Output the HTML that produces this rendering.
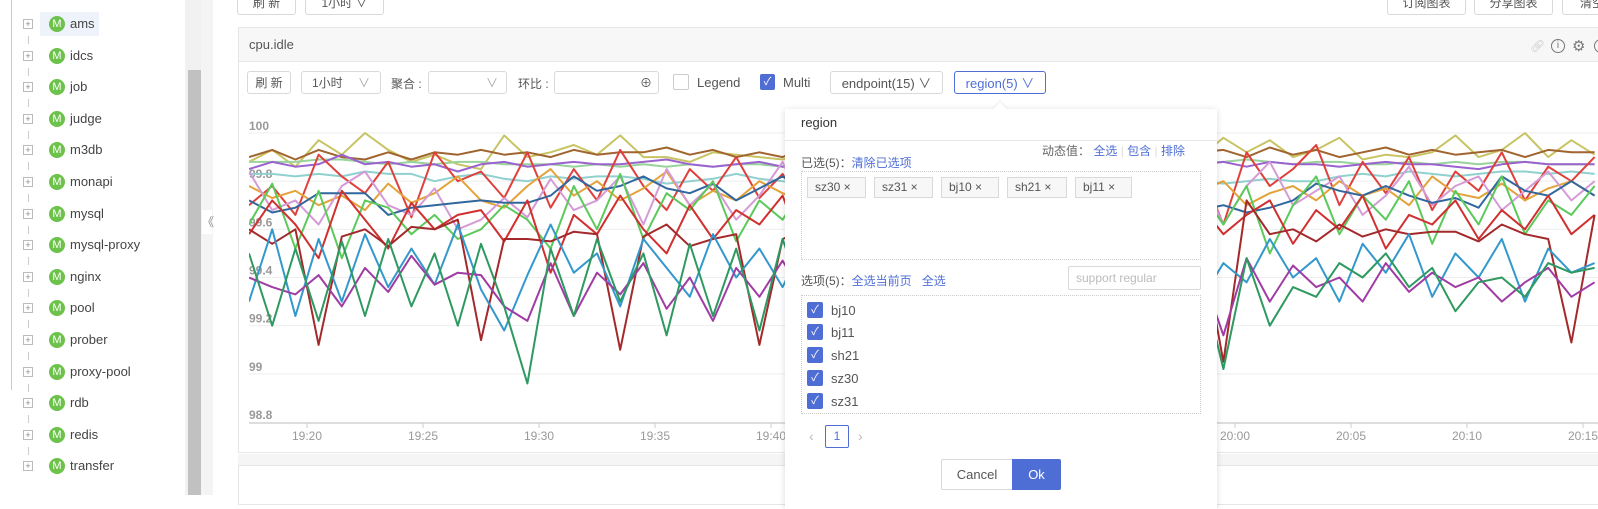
<!DOCTYPE html>
<html><head><meta charset="utf-8"><style>
*{box-sizing:border-box;margin:0;padding:0}
body{width:1598px;height:495px;overflow:hidden;background:#fff;font-family:"Liberation Sans","Noto Sans CJK SC",sans-serif;font-size:12px;color:#555;position:relative}
.a{position:absolute}
.btn{position:absolute;border:1px solid #d9d9d9;border-radius:3px;background:#fff;color:#555;font-size:12px;display:flex;align-items:center;justify-content:center}
.tree-row{position:absolute;left:0;height:24px;width:180px}
.plus{position:absolute;left:23px;top:7px;width:10px;height:10px;border:1px solid #bbb;font-size:9px;line-height:8px;text-align:center;color:#888}
.m{position:absolute;left:49px;top:4px;width:16px;height:16px;border-radius:50%;background:#6cc24a;color:#fff;font-size:11px;line-height:16px;text-align:center}
.tl{position:absolute;left:70px;top:4px;font-size:13px;color:#444}
.tag{position:absolute;top:177px;height:21px;border:1px solid #d9d9d9;background:#f7f7f7;font-size:12px;line-height:19px;padding-left:7px;color:#555}
.cb{position:absolute;left:807px;width:16px;height:16px;background:#4e6ed6;border-radius:2px;color:#fff;font-size:11px;line-height:16px;text-align:center}
.cbl{position:absolute;left:831px;font-size:13px;color:#555}
.blue{color:#4e6ed6}
</style></head><body>
<!-- sidebar -->
<div class="a" style="left:0;top:0;width:185px;height:495px;background:#fff">
<div class="a" style="left:11px;top:0;width:1px;height:390px;background:#ccc"></div>
<div class="a" style="left:40px;top:12px;width:59px;height:24px;background:#edf2fb"></div>
<div id="tree"></div>
</div>
<div class="a" style="left:185px;top:0;width:16px;height:495px;background:#f1f1f1"></div>
<div class="a" style="left:188px;top:70px;width:13px;height:425px;background:#c1c1c1"></div>
<div class="a" style="left:201px;top:0;width:12px;height:495px;background:#f3f4f6"></div>
<div class="a" style="left:202px;top:210px;width:10px;height:24px;background:#fff;font-size:12px;line-height:24px;color:#888">《</div>

<!-- top buttons -->
<div class="btn" style="left:237px;top:-10px;width:59px;height:25px">刷 新</div>
<div class="btn" style="left:305px;top:-10px;width:79px;height:25px">1小时 ∨</div>
<div class="btn" style="left:1387px;top:-10px;width:79px;height:25px">订阅图表</div>
<div class="btn" style="left:1474px;top:-10px;width:79px;height:25px">分享图表</div>
<div class="btn" style="left:1562px;top:-10px;width:60px;height:25px">清空</div>

<!-- panel -->
<div class="a" style="left:238px;top:27px;width:1370px;height:426px;border:1px solid #e6e6e6;background:#fff"></div>
<div class="a" style="left:239px;top:28px;width:1370px;height:34px;background:#f7f7f7;border-bottom:1px solid #e8e8e8"></div>
<div class="a" style="left:249px;top:37px;font-size:13px;color:#555">cpu.idle</div>
<div class="a" style="left:1530px;top:39px;font-size:12px;color:#ccc">🔗︎</div>
<div class="a" style="left:1551px;top:39px;width:14px;height:14px;border:1px solid #777;border-radius:50%;font-size:10px;line-height:12px;text-align:center;color:#777">i</div>
<div class="a" style="left:1572px;top:37px;font-size:15px;color:#777">⚙</div>
<div class="a" style="left:1594px;top:39px;width:14px;height:14px;border:1px solid #777;border-radius:50%"></div>
<div class="a" style="left:238px;top:454px;width:1370px;height:11px;background:#f5f5f5"></div>
<div class="a" style="left:238px;top:465px;width:1370px;height:40px;border:1px solid #e6e6e6;background:#fff"></div>

<!-- toolbar -->
<div class="btn" style="left:247px;top:71px;width:44px;height:23px">刷 新</div>
<div class="btn" style="left:301px;top:71px;width:80px;height:23px;justify-content:space-between;padding:0 10px">1小时<span style="color:#aaa">∨</span></div>
<div class="a" style="left:391px;top:75px">聚合 :</div>
<div class="btn" style="left:428px;top:71px;width:79px;height:23px;justify-content:flex-end;padding-right:8px;color:#aaa">∨</div>
<div class="a" style="left:518px;top:75px">环比 :</div>
<div class="btn" style="left:554px;top:71px;width:105px;height:23px;justify-content:flex-end;padding-right:6px">⊕</div>
<div class="a" style="left:673px;top:74px;width:16px;height:16px;border:1px solid #ccc;border-radius:2px;background:#fff"></div>
<div class="a" style="left:697px;top:75px;font-size:13px">Legend</div>
<div class="a" style="left:760px;top:74px;width:15px;height:16px;background:#4e6ed6;border-radius:2px;color:#fff;font-size:11px;line-height:16px;text-align:center">✓</div>
<div class="a" style="left:783px;top:75px;font-size:13px">Multi</div>
<div class="btn" style="left:830px;top:71px;width:113px;height:23px;font-size:13px">endpoint(15) ∨</div>
<div class="btn" style="left:954px;top:71px;width:92px;height:23px;font-size:13px;border-color:#4e6ed6;color:#4e6ed6">region(5) ∨</div>

<svg class="a" style="left:0;top:0" width="1598" height="495" id="chart">
<defs><clipPath id="pc"><rect x="249" y="100" width="1360" height="330"/></clipPath></defs>
<g id="grid"></g><g id="lines" clip-path="url(#pc)"></g><g id="axis"></g>
</svg>

<!-- popover -->
<div class="a" style="left:785px;top:109px;width:432px;height:400px;background:#fff;box-shadow:0 1px 6px rgba(0,0,0,.15)"></div>
<div class="a" style="left:995px;top:104px;width:10px;height:10px;background:#fff;transform:rotate(45deg);box-shadow:-1px -1px 2px rgba(0,0,0,.08)"></div>
<div class="a" style="left:801px;top:115px;font-size:13px;color:#333">region</div>
<div class="a" style="left:785px;top:140px;width:432px;height:1px;background:#e8e8e8"></div>
<div class="a" style="left:1042px;top:142px;font-size:12px;color:#666">动态值： <span class="blue">全选</span> <span style="color:#ddd">|</span> <span class="blue">包含</span> <span style="color:#ddd">|</span> <span class="blue">排除</span></div>
<div class="a" style="left:801px;top:154px;font-size:12px;color:#555">已选(5)：<span class="blue">清除已选项</span></div>
<div class="a" style="left:801px;top:171px;width:400px;height:89px;border:1px dotted #ccc"></div>
<div class="tag" style="left:807px;width:59px">sz30 ×</div>
<div class="tag" style="left:874px;width:59px">sz31 ×</div>
<div class="tag" style="left:941px;width:58px">bj10 ×</div>
<div class="tag" style="left:1007px;width:60px">sh21 ×</div>
<div class="tag" style="left:1075px;width:57px">bj11 ×</div>
<div class="a" style="left:801px;top:272px;font-size:12px;color:#555">选项(5)：<span class="blue">全选当前页</span>&nbsp;&nbsp;&nbsp;<span class="blue">全选</span></div>
<div class="a" style="left:1068px;top:266px;width:133px;height:24px;border:1px solid #d9d9d9;border-radius:2px;color:#bbb;font-size:12px;line-height:22px;padding-left:7px">support regular</div>
<div class="a" style="left:801px;top:295px;width:400px;height:119px;border:1px dotted #ccc"></div>
<div class="cb" style="top:302px">✓</div><div class="cbl" style="top:303px">bj10</div>
<div class="cb" style="top:324px">✓</div><div class="cbl" style="top:325px">bj11</div>
<div class="cb" style="top:347px">✓</div><div class="cbl" style="top:348px">sh21</div>
<div class="cb" style="top:370px">✓</div><div class="cbl" style="top:371px">sz30</div>
<div class="cb" style="top:393px">✓</div><div class="cbl" style="top:394px">sz31</div>
<div class="a" style="left:809px;top:428px;color:#bbb;font-size:14px">‹</div>
<div class="a" style="left:825px;top:425px;width:24px;height:23px;border:1px solid #4e6ed6;border-radius:2px;color:#4e6ed6;text-align:center;line-height:21px">1</div>
<div class="a" style="left:858px;top:428px;color:#bbb;font-size:14px">›</div>
<div class="btn" style="left:941px;top:459px;width:72px;height:31px;font-size:13px;border-radius:2px 0 0 2px">Cancel</div>
<div class="btn" style="left:1012px;top:459px;width:49px;height:31px;font-size:13px;background:#4e6ed6;border-color:#4e6ed6;color:#fff;border-radius:0 2px 2px 0">Ok</div>

<script>
var treeItems=["ams","idcs","job","judge","m3db","monapi","mysql","mysql-proxy","nginx","pool","prober","proxy-pool","rdb","redis","transfer"];
var tree=document.getElementById('tree');
treeItems.forEach(function(n,i){
  var r=document.createElement('div');r.className='tree-row';r.style.top=(12+i*31.6)+'px';
  
  
  r.innerHTML='<div class="plus">+</div><div class="m">M</div><div class="tl">'+n+'</div>';
  tree.appendChild(r);
  if(i<14){var d=document.createElement('div');d.className='a';d.style.cssText='left:28px;width:1px;height:8px;background:#ccc;top:'+(12+i*31.6+24)+'px';tree.appendChild(d);}
});

var yTicks=[100,99.8,99.6,99.4,99.2,99,98.8];
var yTickLabels=["100","99.8","99.6","99.4","99.2","99","98.8"];
var xTickMinutes=[20,25,30,35,40,45,50,55,60,65,70,75];
var xTickLabels=["19:20","19:25","19:30","19:35","19:40","19:45","19:50","19:55","20:00","20:05","20:10","20:15"];
var startMinute=17.5;
var colors=["#c8c463","#a0642e","#97d39a","#9b63cf","#8fd1cf","#e0403c","#e4a33a","#d49bd6","#31679d","#5bc95b","#d03030","#a3292b","#3398cc","#a03ca3","#2e9960"];
var s1=[99.88,99.93,99.86,99.97,99.91,100,99.93,99.88,99.91,99.87,99.85,99.99,99.9,99.92,99.95,99.91,99.99,99.9,99.9,99.88,99.92,99.91,99.9,99.89,99.91,99.91,99.93,99.9,99.87,99.91,99.92,99.88,99.86,100,99.9,99.88,99.93,99.9,99.89,99.91,99.92,99.9,99.98,99.92,99.97,99.9,99.93,99.98,99.89,99.91,99.9,99.92,99.99,99.9,99.93,100,99.9,99.97,99.91];
var s2=[99.9,99.93,99.89,99.93,99.9,99.89,99.92,99.89,99.92,99.91,99.93,99.91,99.92,99.9,99.93,99.91,99.92,99.92,99.94,99.91,99.93,99.9,99.92,99.9,99.94,99.91,99.93,99.9,99.92,99.91,99.94,99.91,99.92,99.9,99.93,99.91,99.92,99.94,99.9,99.93,99.91,99.92,99.93,99.9,99.94,99.91,99.93,99.9,99.92,99.94,99.91,99.93,99.91,99.92,99.93,99.9,99.93,99.92,99.92];
var s3=[99.88,99.88,99.88,99.89,99.89,99.88,99.87,99.88,99.87,99.88,99.88,99.87,99.87,99.87,99.86,99.87,99.86,99.87,99.86,99.87,99.86,99.87,99.87,99.86,99.87,99.87,99.86,99.86,99.85,99.86,99.87,99.86,99.86,99.87,99.87,99.86,99.86,99.87,99.88,99.87,99.86,99.87,99.88,99.89,99.88,99.87,99.88,99.88,99.87,99.87,99.88,99.87,99.88,99.87,99.88,99.88,99.87,99.87,99.87];
var s4=[99.85,99.88,99.86,99.87,99.91,99.87,99.88,99.86,99.87,99.84,99.87,99.88,99.86,99.87,99.88,99.87,99.87,99.88,99.89,99.87,99.86,99.87,99.88,99.86,99.87,99.88,99.86,99.87,99.89,99.87,99.86,99.88,99.87,99.87,99.86,99.87,99.88,99.86,99.87,99.88,99.86,99.87,99.88,99.86,99.88,99.87,99.87,99.86,99.87,99.88,99.87,99.87,99.86,99.85,99.87,99.88,99.87,99.87,99.87];
var s5=[99.83,99.83,99.82,99.83,99.82,99.84,99.83,99.83,99.8,99.82,99.83,99.81,99.8,99.82,99.81,99.82,99.82,99.81,99.79,99.8,99.81,99.83,99.81,99.8,99.79,99.8,99.82,99.81,99.8,99.8,99.81,99.82,99.83,99.81,99.8,99.8,99.8,99.81,99.82,99.78,99.79,99.8,99.79,99.8,99.81,99.8,99.8,99.82,99.83,99.82,99.84,99.83,99.82,99.83,99.84,99.84,99.83,99.84,99.83];
var s6=[99.7,99.78,99.66,99.91,99.82,99.75,99.88,99.65,99.92,99.8,99.84,99.73,99.92,99.69,99.85,99.72,99.93,99.78,99.68,99.85,99.76,99.9,99.73,99.83,99.67,99.91,99.75,99.86,99.7,99.92,99.8,99.66,99.88,99.74,99.94,99.7,99.83,99.72,99.9,99.78,99.68,99.86,99.62,99.92,99.78,99.85,99.95,99.7,99.88,99.75,99.9,99.68,99.84,99.76,99.92,99.72,99.86,99.8,99.9];
var s7=[99.78,99.73,99.76,99.7,99.74,99.68,99.79,99.71,99.75,99.82,99.72,99.69,99.78,99.85,99.74,99.8,99.72,99.77,99.84,99.7,99.76,99.72,99.8,99.75,99.71,99.78,99.68,99.82,99.74,99.79,99.72,99.83,99.75,99.7,99.8,99.73,99.77,99.69,99.78,99.84,99.72,99.76,99.8,99.7,99.75,99.78,99.72,99.8,99.74,99.77,99.7,99.82,99.75,99.73,99.79,99.72,99.77,99.8,99.74];
var s8=[99.84,99.68,99.72,99.62,99.78,99.84,99.7,99.66,99.77,99.6,99.64,99.73,99.65,99.81,99.68,99.72,99.82,99.62,99.85,99.7,99.79,99.64,99.74,99.88,99.66,99.72,99.58,99.78,99.7,99.85,99.62,99.76,99.81,99.66,99.74,99.86,99.6,99.72,99.8,99.68,99.74,99.84,99.62,99.78,99.88,99.7,99.76,99.82,99.66,99.74,99.86,99.7,99.78,99.82,99.68,99.76,99.84,99.72,99.8];
var s9=[99.72,99.67,99.69,99.75,99.75,99.75,99.66,99.69,99.7,99.71,99.72,99.71,99.71,99.74,99.82,99.76,99.78,99.82,99.77,99.75,99.79,99.72,99.77,99.82,99.76,99.8,99.8,99.75,99.75,99.71,99.66,99.71,99.71,99.72,99.74,99.74,99.78,99.72,99.78,99.75,99.74,99.68,99.7,99.67,99.69,99.72,99.79,99.76,99.74,99.78,99.74,99.71,99.73,99.69,99.82,99.76,99.74,99.8,99.74];
var s10=[99.62,99.79,99.52,99.76,99.48,99.72,99.69,99.58,99.66,99.56,99.6,99.7,99.64,99.52,99.78,99.6,99.83,99.56,99.75,99.68,99.8,99.55,99.72,99.64,99.79,99.52,99.74,99.6,99.82,99.5,99.78,99.66,99.58,99.76,99.62,99.8,99.54,99.72,99.66,99.84,99.56,99.76,99.62,99.78,99.5,99.7,99.82,99.58,99.74,99.64,99.8,99.54,99.76,99.62,99.82,99.58,99.72,99.66,99.78];
var s11=[99.58,99.72,99.62,99.48,99.76,99.64,99.52,99.71,99.6,99.66,99.68,99.55,99.72,99.42,99.66,99.58,99.74,99.6,99.5,99.7,99.56,99.68,99.62,99.74,99.48,99.66,99.58,99.72,99.6,99.52,99.74,99.58,99.66,99.68,99.5,99.72,99.62,99.56,99.74,99.64,99.52,99.7,99.58,99.66,99.72,99.54,99.68,99.6,99.74,99.52,99.66,99.62,99.72,99.56,99.68,99.6,99.74,99.58,99.66];
var s12=[99.6,99.54,99.6,99.12,99.57,99.6,99.53,99.61,99.6,99.64,99.14,99.56,99.56,99.55,99.59,99.58,99.1,99.57,99.62,99.53,99.56,99.58,99.12,99.56,99.6,99.54,99.58,99.53,99.56,99.5,99.6,99.54,99.58,99.62,99.15,99.55,99.58,99.52,99.56,99.6,99.54,99.58,99.05,99.72,99.58,99.6,99.55,99.62,99.57,99.6,99.58,99.59,99.59,99.55,99.62,99.58,99.56,99.13,99.66];
var s13=[99.3,99.6,99.24,99.56,99.3,99.58,99.36,99.52,99.37,99.62,99.35,99.18,99.41,99.62,99.42,99.5,99.28,99.56,99.44,99.32,99.58,99.4,99.52,99.36,99.56,99.3,99.62,99.42,99.5,99.37,99.6,99.28,99.54,99.4,99.58,99.33,99.5,99.4,99.6,99.38,99.5,99.3,99.46,99.38,99.56,99.4,99.48,99.3,99.54,99.42,99.58,99.32,99.5,99.4,99.56,99.3,99.52,99.42,99.46];
var s14=[99.4,99.36,99.33,99.41,99.28,99.44,99.34,99.49,99.37,99.42,99.41,99.28,99.22,99.46,99.24,99.42,99.33,99.46,99.27,99.4,99.22,99.44,99.32,99.47,99.3,99.42,99.26,99.38,99.33,99.44,99.28,99.46,99.3,99.4,99.24,99.42,99.34,99.46,99.2,99.4,99.32,99.44,99.16,99.48,99.3,99.45,99.36,99.4,99.3,99.46,99.34,99.42,99.36,99.4,99.3,99.38,99.44,99.32,99.38];
var s15=[99.5,99.2,99.52,99.22,99.55,99.24,99.56,99.28,99.5,99.2,99.54,99.28,98.96,99.52,99.24,99.56,99.3,99.5,99.16,99.54,99.24,99.52,99.18,99.56,99.28,99.5,99.22,99.54,99.18,99.5,99.2,99.56,99.26,99.48,99.22,99.52,99.3,99.46,99.18,99.5,99.24,99.42,99.02,99.48,99.2,99.36,99.32,99.46,99.4,99.5,99.36,99.44,99.26,99.38,99.4,99.32,99.46,99.42,99.44];
var seriesList=[s1,s2,s3,s4,s5,s6,s7,s8,s9,s10,s11,s12,s13,s14,s15];

var NS='http://www.w3.org/2000/svg';
function xScale(min){return 307+(min-20)*23.2;}
function yScale(v){return 133+(100-v)/1.2*289;}
var grid=document.getElementById('grid'),axis=document.getElementById('axis'),lines=document.getElementById('lines');
yTicks.forEach(function(v,i){
  var y=yScale(v);
  if(i<yTicks.length-1){var l=document.createElementNS(NS,'line');
  
  
  l.setAttribute('x1',249);l.setAttribute('x2',1598);l.setAttribute('y1',y);l.setAttribute('y2',y);l.setAttribute('stroke','#eee');grid.appendChild(l);}
  var t=document.createElementNS(NS,'text');
  
  
  t.setAttribute('x',249);t.setAttribute('y',y-3);t.setAttribute('fill','#999');t.setAttribute('font-size','12');t.setAttribute('font-weight','bold');t.setAttribute('font-family','Liberation Sans, sans-serif');t.textContent=yTickLabels[i];grid.appendChild(t);
});
var ax=document.createElementNS(NS,'line');


ax.setAttribute('x1',249);ax.setAttribute('x2',1598);ax.setAttribute('y1',423);ax.setAttribute('y2',423);ax.setAttribute('stroke','#ddd');ax.setAttribute('stroke-width','2');axis.appendChild(ax);
xTickMinutes.forEach(function(m,i){
  var x=xScale(m);
  var tk=document.createElementNS(NS,'line');
  
  
  tk.setAttribute('x1',x);tk.setAttribute('x2',x);tk.setAttribute('y1',423);tk.setAttribute('y2',428);tk.setAttribute('stroke','#ccc');axis.appendChild(tk);
  var t=document.createElementNS(NS,'text');
  
  
  t.setAttribute('x',x);t.setAttribute('y',440);t.setAttribute('text-anchor','middle');t.setAttribute('fill','#999');t.setAttribute('font-size','12');t.setAttribute('font-family','Liberation Sans, sans-serif');t.textContent=xTickLabels[i];axis.appendChild(t);
});
seriesList.forEach(function(s,k){
  var d=s.map(function(v,i){return (i?'L':'M')+xScale(startMinute+i).toFixed(1)+' '+yScale(v).toFixed(1);}).join('');
  var p=document.createElementNS(NS,'path');
  
  
  p.setAttribute('d',d);p.setAttribute('fill','none');p.setAttribute('stroke',colors[k]);p.setAttribute('stroke-width','2');p.setAttribute('stroke-linejoin','round');
  lines.appendChild(p);
});
</script>
</body></html>
